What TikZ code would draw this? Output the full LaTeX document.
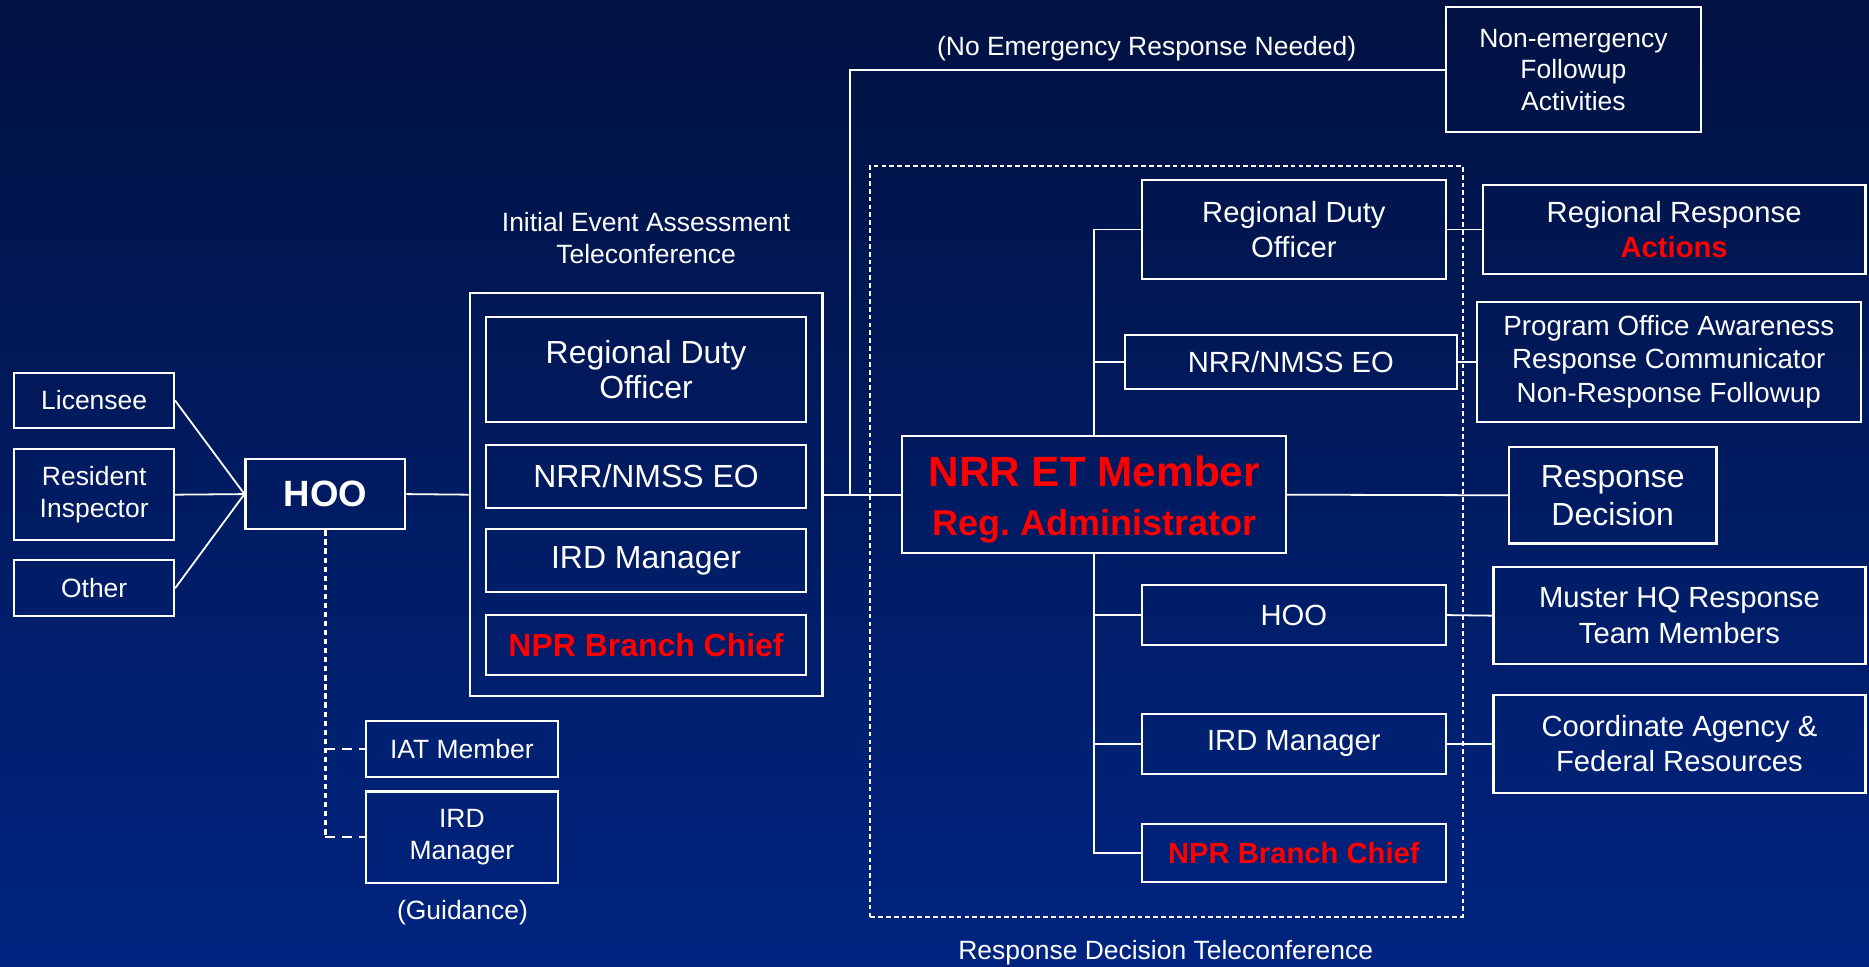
\documentclass[tikz,border=0pt]{standalone}
\usepackage{fontspec}
\setmainfont{Liberation Sans}
\definecolor{bgtop}{RGB}{1,18,66}
\definecolor{bgmid}{RGB}{0,28,104}
\definecolor{bgbot}{RGB}{0,36,128}
\begin{document}
\begin{tikzpicture}[x=0.5pt,y=-0.5pt,
	box/.style={draw=white,line width=0.9pt,inner sep=0pt,align=center,text=white},
	wh/.style 2 args={minimum width=#1*0.5pt,minimum height=#2*0.5pt},
	fsmall/.style={font=\fontsize{11.1}{13.3}\selectfont},
	fmid/.style={font=\fontsize{12.25}{14.5}\selectfont},
	fbig/.style={font=\fontsize{13.4}{15}\selectfont},
	hot/.style={text=red,font=\fontsize{#1}{16}\selectfont\bfseries},
	lbl/.style={text=white,align=center,font=\fontsize{11.1}{13.5}\selectfont},
	link/.style={draw=white,line width=0.75pt},
	guide/.style={draw=white,line width=1pt,dash pattern=on 2.2pt off 1.6pt},
	guidex/.style={draw=white,line width=0.8pt,dash pattern=on 4pt off 3pt},
	frame/.style={draw=white,line width=0.8pt,dash pattern=on 2pt off 1.3pt,inner sep=0pt}]
	\shade[top color=bgtop,middle color=bgmid,bottom color=bgbot] (0,0) rectangle (1568,811);
	\useasboundingbox (0,0) rectangle (1568,811);
	% reporting sources
	\node[box,wh={134}{46},fsmall] (lic) at (79,336) {Licensee};
	\node[box,wh={134}{76},fsmall] (res) at (79,415) {Resident\\Inspector};
	\node[box,wh={134}{47},fsmall] (oth) at (79,493.5) {Other};
	\node[box,wh={134}{59},font=\fontsize{15.35}{18}\selectfont\bfseries] (hoo) at (273,414.5) {HOO};
	% initial assessment
	\node[lbl] (ieatitle) at (542,200) {Initial Event Assessment\\Teleconference};
	\node[box,wh={296}{338}] (iea) at (542,415) {};
	\node[box,wh={268}{88},fbig] (iearod) at (542,310) {Regional Duty\\Officer};
	\node[box,wh={268}{53},fbig] (ieaeo) at (542,399.5) {NRR/NMSS EO};
	\node[box,wh={268}{53},fbig] (ieaird) at (542,470.5) {IRD Manager};
	\node[box,wh={268}{50},hot=13.4] (ieanpr) at (542,541) {NPR Branch Chief};
	\node[box,wh={161}{47},fsmall] (iat) at (387.5,628.5) {IAT Member};
	\node[box,wh={161}{77},fsmall] (irdg) at (387.5,702.5) {IRD\\Manager};
	\node[lbl] (guid) at (388,766) {(Guidance)};
	% no response branch
	\node[lbl] (nolbl) at (962,41) {(No Emergency Response Needed)};
	\node[box,wh={214}{105},font=\fontsize{11.1}{13.25}\selectfont] (nonem) at (1320,58.5) {Non-emergency\\Followup\\Activities};
	% response decision
	\node[frame,wh={497}{630}] (rdt) at (978.5,454) {};
	\node[lbl] (rdtlbl) at (978,799) {Response Decision Teleconference};
	\node[box,wh={322}{98},text=red,font=\fontsize{15.1}{20.5}\selectfont\bfseries] (net) at (918,415)
		{\rule{0pt}{17pt}{\fontsize{17.75}{20.5}\selectfont NRR ET Member}\\Reg.\ Administrator};
	\node[box,wh={255}{83},fmid] (rdo) at (1085.5,192.5) {Regional Duty\\Officer};
	\node[box,wh={278}{45},fmid] (eo) at (1083,303.5) {NRR/NMSS EO};
	\node[box,wh={255}{50},fmid] (hoor) at (1085.5,516) {HOO};
	\node[box,wh={255}{50},fmid] (ird) at (1085.5,624) {IRD Manager};
	\node[box,wh={255}{49},hot=12.25] (npr) at (1085.5,715.5) {NPR Branch Chief};
	% outcomes
	\node[box,wh={321}{75},fmid] (rra) at (1404.5,192.5) {Regional Response\\\textcolor{red}{\bfseries Actions}};
	\node[box,wh={322}{101},font=\fontsize{11.65}{14}\selectfont] (poa) at (1400,303.5)
		{Program Office Awareness\\Response Communicator\\Non-Response Followup};
	\node[box,wh={174}{81},font=\fontsize{13.4}{16}\selectfont] (rdec) at (1353,415.5) {Response\\Decision};
	\node[box,wh={312}{81},font=\fontsize{12.25}{15}\selectfont] (mhq) at (1409,516.5) {Muster HQ Response\\Team Members};
	\node[box,wh={312}{82},fmid] (cfr) at (1409,624) {Coordinate Agency \&\\Federal Resources};
	% connectors
	\draw[link] (lic.east) -- (hoo.west);
	\draw[link] (res.east) -- (hoo.west);
	\draw[link] (oth.east) -- (hoo.west);
	\draw[link] (hoo.east) -- (iea.west);
	\draw[link] (iea.east) -- (net.west);
	\coordinate (split) at (713,415);
	\draw[link] (split) |- (nonem.west);
	\draw[link] (rdo.west) -| (net.north);
	\draw[link] (eo.west) -| (net.north);
	\draw[link] (hoor.west) -| (net.south);
	\draw[link] (ird.west) -| (net.south);
	\draw[link] (npr.west) -| (net.south);
	\draw[link] (rdo.east) -- (rra.west);
	\draw[link] (eo.east) -- (poa.west);
	\draw[link] (net.east) -- (rdec.west);
	\draw[link] (hoor.east) -- (mhq.west);
	\draw[link] (ird.east) -- (cfr.west);
	\draw[guide] (hoo.south) -- (hoo.south |- irdg.west);
	\draw[guidex] (hoo.south |- iat.west) -- (iat.west);
	\draw[guidex] (hoo.south |- irdg.west) -- (irdg.west);
\end{tikzpicture}
\end{document}
